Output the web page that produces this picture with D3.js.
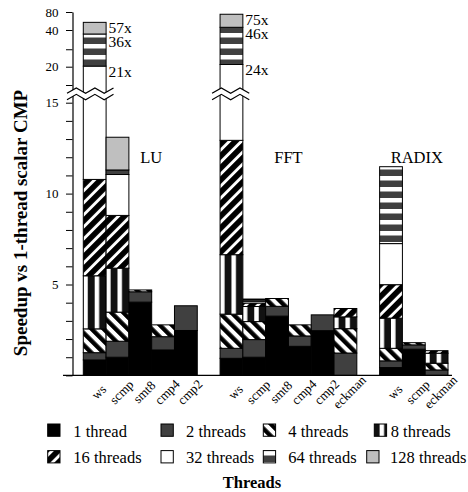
<!DOCTYPE html>
<html>
<head>
<meta charset="utf-8">
<script src="https://cdn.jsdelivr.net/npm/d3@7"></script>
<style>
  body { margin: 0; background: #fff; }
  svg { display: block; font-family: "Liberation Serif", "Times New Roman", serif; }
</style>
</head>
<body>
<svg id="chart" width="468" height="492"></svg>
<script>
var threadNames = ["1 thread", "2 threads", "4 threads", "8 threads",
  "16 threads", "32 threads", "64 threads", "128 threads"];
var groupNames = ["LU", "FFT", "RADIX"];
var luConfigs = ["ws", "scmp", "smt8", "cmp4", "cmp2"];
var fftConfigs = ["ws", "scmp", "smt8", "cmp4", "cmp2", "eckman"];
var radixConfigs = ["ws", "scmp", "eckman"];

// speedup reached with 1,2,4,...,128 threads (null = not run)
var luSpeedup = [
  [0.85, 1.25, 2.56, 5.48, 10.78, 21, 36, 57],
  [1.0, 1.88, 3.48, 5.9, 8.8, 11.05, 11.3, 13.1],
  [4.03, 4.6, 4.7],
  [1.4, 2.13, 2.78],
  [2.47, 3.83]
];
var fftSpeedup = [
  [0.94, 1.49, 3.37, 6.64, 12.93, 24, 46, 75],
  [1.0, 1.97, 2.96, 3.79, 3.98, 4.08, 4.15, 4.2],
  [3.26, 3.8, 4.23],
  [1.6, 2.17, 2.78],
  [2.46, 3.33],
  [null, 1.23, 2.57, 3.22, 3.68]
];
var radixSpeedup = [
  [0.43, 0.8, 1.49, 3.15, 4.99, 7.25, 11.48],
  [1.44, 1.68, 1.8],
  [null, 0.3, 0.67, 1.22, 1.36]
];

var lowerTicks = d3.range(0, 16);
var upperTicks = [16, 20, 30, 40, 80];
var labelledTicks = [5, 10, 15, 20, 40, 80];

var configs = [luConfigs, fftConfigs, radixConfigs];
var speedups = [luSpeedup, fftSpeedup, radixSpeedup];

var svg = d3.select("#chart");

// slots: bars of each group with one empty slot between groups
var slots = [];
groupNames.forEach((g, gi) => {
  configs[gi].forEach(c => slots.push(g + "|" + c));
  if (gi < groupNames.length - 1) slots.push("gap" + gi);
});

var x = d3.scaleBand().domain(slots).range([83.3, 448]).padding(0);
var bw = x.bandwidth();

// broken axis: 0-15 linear, then compressed top part
var y = d3.scaleLinear()
  .domain([0, 15, 16, 20, 24, 36, 40, 80])
  .range([375.4, 102.7, 85, 66.7, 64.5, 34, 30, 12]);

// patterns
var defs = svg.append("defs");
var p4 = defs.append("pattern").attr("id", "p4")
  .attr("patternUnits", "userSpaceOnUse").attr("width", 8.5).attr("height", 8.5)
  .attr("patternTransform", "rotate(-45)");
p4.append("rect").attr("width", 8.5).attr("height", 8.5).attr("fill", "#fff");
p4.append("rect").attr("width", 4.4).attr("height", 8.5).attr("fill", "#000");

var p16 = defs.append("pattern").attr("id", "p16")
  .attr("patternUnits", "userSpaceOnUse").attr("width", 8.5).attr("height", 8.5)
  .attr("patternTransform", "rotate(45)");
p16.append("rect").attr("width", 8.5).attr("height", 8.5).attr("fill", "#fff");
p16.append("rect").attr("width", 5.6).attr("height", 8.5).attr("fill", "#000");

var p8 = defs.append("pattern").attr("id", "p8")
  .attr("patternUnits", "userSpaceOnUse").attr("x", x.range()[0]).attr("y", 0)
  .attr("width", bw / 2).attr("height", 10);
p8.append("rect").attr("width", bw / 2).attr("height", 10).attr("fill", "#fff");
p8.append("rect").attr("x", 4.5).attr("width", bw / 2 - 4.5).attr("height", 10).attr("fill", "#111");

var p64 = defs.append("pattern").attr("id", "p64")
  .attr("patternUnits", "userSpaceOnUse").attr("width", 10).attr("height", 11);
p64.append("rect").attr("width", 10).attr("height", 11).attr("fill", "#fff");
p64.append("rect").attr("y", 4.5).attr("width", 10).attr("height", 6.5).attr("fill", "#404040");

var fills = ["#000", "#404040", "url(#p4)", "url(#p8)", "url(#p16)", "#fff", "url(#p64)", "#bfbfbf"];

// bars
var segs = [];
groupNames.forEach((g, gi) => {
  configs[gi].forEach((c, ci) => {
    var prev = 0;
    speedups[gi][ci].forEach((v, k) => {
      if (v == null) return;
      segs.push({ key: g + "|" + c, lo: prev, hi: v, k: k });
      prev = v;
    });
  });
});

svg.append("g").selectAll("rect")
  .data(segs)
  .enter().append("rect")
    .attr("x", d => x(d.key))
    .attr("width", bw)
    .attr("y", d => y(d.hi))
    .attr("height", d => y(d.lo) - y(d.hi))
    .attr("fill", d => fills[d.k])
    .attr("stroke", "#000")
    .attr("stroke-width", 1);

// axes
var yAxis = d3.axisLeft(y)
  .tickValues(lowerTicks.concat(upperTicks))
  .tickFormat(d => labelledTicks.includes(d) ? d : "")
  .tickSize(6.5).tickSizeOuter(0).tickPadding(7.5);

var gy = svg.append("g").attr("transform", "translate(72.5,0)").call(yAxis);
gy.attr("font-family", null);
gy.selectAll("text").attr("font-size", 13);
gy.selectAll("line, path").attr("stroke", "#000");
gy.select(".domain").attr("stroke-width", 1.2);

svg.append("line")
  .attr("x1", 63).attr("x2", 452)
  .attr("y1", y(0)).attr("y2", y(0))
  .attr("stroke", "#000").attr("stroke-width", 1.2);

// break marks across the axis / tall bars
var breaks = [{ key: "LU|ws", left: 16.3, n: 5 }, { key: "FFT|ws", left: 8, n: 4 }];
var yMid = (y(15) + y(16)) / 2;
breaks.forEach(b => {
  var x0 = x(b.key) - b.left, step = 9.3;
  var top = [], bot = [];
  for (var i = 0; i <= b.n; i++) {
    var off = i % 2 === 0 ? 2.7 : -2.7;
    top.push([x0 + i * step, yMid - 3.2 + off]);
    bot.push([x0 + i * step, yMid + 3.2 + off]);
  }
  svg.append("path")
    .attr("d", d3.line()(top.concat(bot.slice().reverse())) + "Z")
    .attr("fill", "#fff");
  [top, bot].forEach(pts => {
    svg.append("path").attr("d", d3.line()(pts))
      .attr("fill", "none").attr("stroke", "#000").attr("stroke-width", 1.2);
  });
});

// value labels on the tall ws bars
[["LU|ws", luSpeedup[0]], ["FFT|ws", fftSpeedup[0]]].forEach(([key, vals]) => {
  var tops = vals.slice(5).filter(v => v != null && v > 15).sort((a, b) => b - a);
  var last = -Infinity;
  tops.forEach(v => {
    var by = Math.max(y(v) + 10.5, last + 14);
    last = by;
    svg.append("text")
      .attr("x", x(key) + bw + 2.5).attr("y", by)
      .attr("font-size", 15.5).text(Math.round(v) + "x");
  });
});

// group titles
var groupDx = [11, 0, 3];
groupNames.forEach((g, gi) => {
  var c = configs[gi];
  var x0 = x(g + "|" + c[0]), x1 = x(g + "|" + c[c.length - 1]) + bw;
  svg.append("text")
    .attr("x", (x0 + x1) / 2 + groupDx[gi]).attr("y", 163.3)
    .attr("text-anchor", "middle").attr("font-size", 16.5).text(g);
});

// category labels
svg.append("g").selectAll("text")
  .data(slots.filter(s => s.indexOf("|") > 0))
  .enter().append("text")
    .attr("transform", d => "translate(" + (x(d) + bw / 2 + 4) + ",392) rotate(-45)")
    .attr("text-anchor", "middle")
    .attr("dominant-baseline", "central")
    .attr("font-size", 13)
    .text(d => d.split("|")[1]);

// axis titles
svg.append("text")
  .attr("transform", "translate(20,223) rotate(-90)")
  .attr("text-anchor", "middle").attr("dominant-baseline", "central")
  .attr("font-weight", "bold").attr("font-size", 19)
  .text("Speedup vs 1-thread scalar CMP");

svg.append("text")
  .attr("x", 252).attr("y", 487.5)
  .attr("text-anchor", "middle")
  .attr("font-weight", "bold").attr("font-size", 16.5)
  .text("Threads");

// legend
var legendIconX = [47.7, 161, 263.3, 374.3, 47.7, 161, 263.3, 366.7];
var legendTextX = [73.3, 186, 288.3, 390.7, 73.3, 186, 288.3, 390];
var legendRowY = [436.7, 463.3];

var leg = svg.append("g").selectAll("g")
  .data(threadNames)
  .enter().append("g");
leg.append("rect")
  .attr("x", (d, i) => legendIconX[i])
  .attr("y", (d, i) => legendRowY[Math.floor(i / 4)] - 12.7)
  .attr("width", 12.3).attr("height", 12.3)
  .attr("fill", (d, i) => fills[i])
  .attr("stroke", "#000").attr("stroke-width", 1);
leg.append("text")
  .attr("x", (d, i) => legendTextX[i])
  .attr("y", (d, i) => legendRowY[Math.floor(i / 4)])
  .attr("font-size", 16.5)
  .text(d => d);
</script>
</body>
</html>
